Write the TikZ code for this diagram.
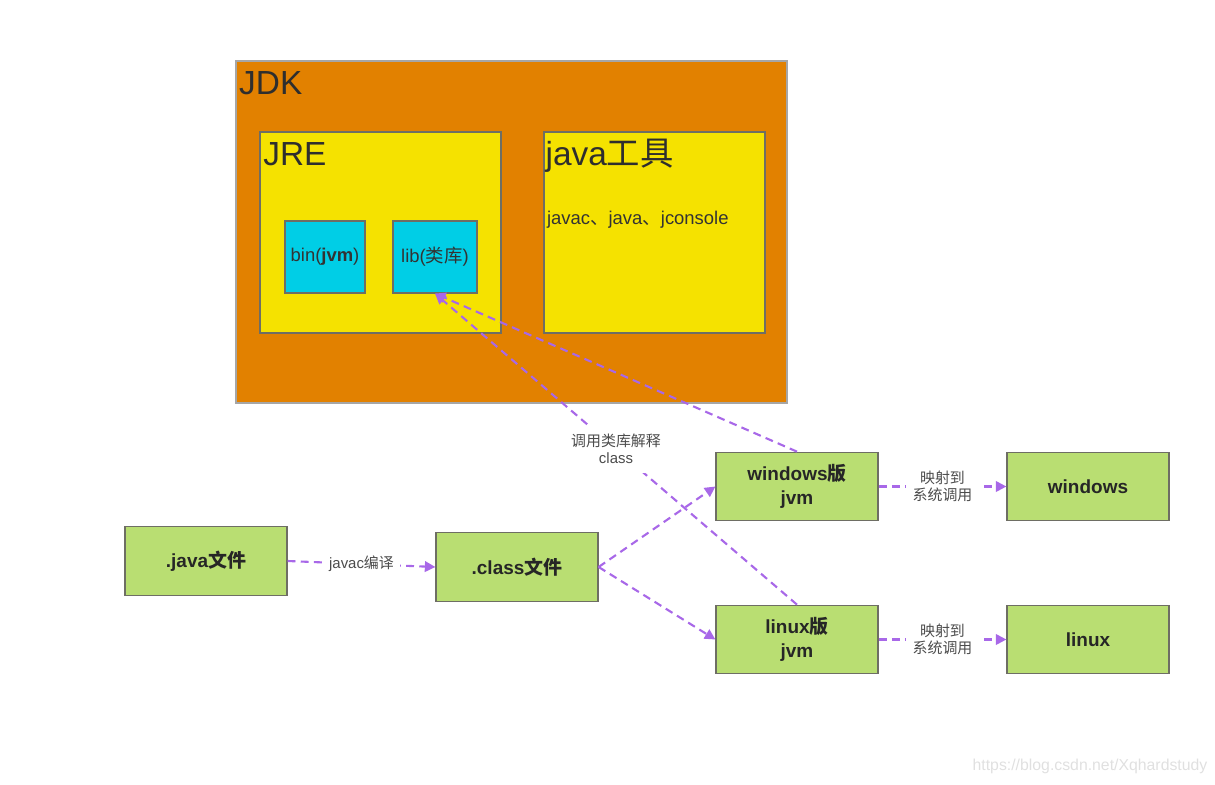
\documentclass[tikz,border=0pt]{standalone}
\usepackage{fontspec}
\setmainfont{Liberation Sans}
\newfontfamily\cjk{Noto Sans CJK SC}
\usetikzlibrary{arrows.meta, positioning}

\definecolor{jdkorange}{RGB}{226,129,0}
\definecolor{jreyellow}{RGB}{245,226,0}
\definecolor{libcyan}{RGB}{0,206,230}
\definecolor{filegreen}{RGB}{185,222,114}
\definecolor{flowpurple}{RGB}{168,104,232}
\definecolor{edgegray}{RGB}{110,110,100}

\begin{document}
\begin{tikzpicture}[
  x=0.02cm, y=-0.02cm,
  jdkbox/.style={rectangle, draw=black!35, line width=0.8pt, fill=jdkorange,
                 minimum width=11.02cm, minimum height=6.84cm, inner sep=0pt},
  jrebox/.style={rectangle, draw=edgegray, line width=0.6pt, fill=jreyellow,
                 minimum height=4.02cm, inner sep=0pt},
  libbox/.style={rectangle, draw=edgegray, line width=0.6pt, fill=libcyan,
                 minimum height=1.44cm, font=\fontsize{10.5}{12}\selectfont,
                 text=black!80, inner sep=0pt},
  filebox/.style={rectangle, draw=edgegray, line width=0.7pt, fill=filegreen,
                  minimum width=3.24cm, minimum height=1.37cm, align=center,
                  font=\fontsize{10.8}{13.5}\selectfont\bfseries, text=black!85},
  title/.style={font=\fontsize{19}{22}\selectfont, text=black!82, inner sep=1pt},
  lbl/.style={fill=white, align=center, inner sep=3.5pt, text=black!70,
              font=\fontsize{8.5}{9.5}\selectfont},
  arr/.style={-{Triangle[length=6pt, width=6pt]}, flowpurple, line width=1.2pt,
              dash pattern=on 4.5pt off 3pt}
]
\useasboundingbox (0,0) rectangle (1215,785);
% JDK container with JRE and the tools
\node[jdkbox] (jdk) at (511.5,232) {};
\node[title, anchor=north west] (jdktitle) at ([xshift=1pt, yshift=-5pt]jdk.north west) {JDK};
\node[jrebox, minimum width=4.82cm] (jre) at (380.5,232.5) {};
\node[title, anchor=north west] (jretitle) at ([xshift=1pt, yshift=-5pt]jre.north west) {JRE};
\node[jrebox, minimum width=4.42cm] (tools) at (654.5,232.5) {};
\node[title, anchor=north west] (toolstitle) at ([xshift=0pt, yshift=-3pt]tools.north west) {java{\cjk 工具}};
\node[anchor=west, inner sep=1pt, text=black!80, font=\fontsize{10.5}{12}\selectfont]
     (toolslist) at (545,220) {javac{\cjk 、}java{\cjk 、}jconsole};
\node[libbox, minimum width=1.6cm]  (bin) at (325,257) {bin(\textbf{jvm})};
\node[libbox, minimum width=1.68cm] (lib) at (435,257) {lib({\cjk 类库})};
% source, bytecode, the two jvms and the systems
\node[filebox] (java)   at (206,561)    {.java{\cjk 文件}};
\node[filebox] (class)  at (517,567)    {.class{\cjk 文件}};
\node[filebox] (winjvm) at (797,486.5)  {windows{\cjk 版}\\ jvm};
\node[filebox] (linjvm) at (797,639.5)  {linux{\cjk 版}\\ jvm};
\node[filebox] (win)    at (1088,486.5) {windows};
\node[filebox] (lin)    at (1088,639.5) {linux};
\draw[arr] (java.east) -- (class.west) node[lbl, midway]{javac{\cjk 编译}};
\draw[arr] (class.east) -- (winjvm.west);
\draw[arr] (class.east) -- (linjvm.west);
\draw[arr] (winjvm.north) -- (lib.south);
\draw[arr] (linjvm.north) -- (lib.south)
      node[lbl, pos=0.5, inner sep=5pt]{{\cjk 调用类库解释}\\ class};
\draw[arr] (winjvm.east) -- (win.west) node[lbl, midway]{{\cjk 映射到}\\ {\cjk 系统调用}};
\draw[arr] (linjvm.east) -- (lin.west) node[lbl, midway]{{\cjk 映射到}\\ {\cjk 系统调用}};
\node[text=black!12, font=\fontsize{9}{10}\selectfont] (mark) at (1090,766)
     {https://blog.csdn.net/Xqhardstudy};
\end{tikzpicture}
\end{document}
